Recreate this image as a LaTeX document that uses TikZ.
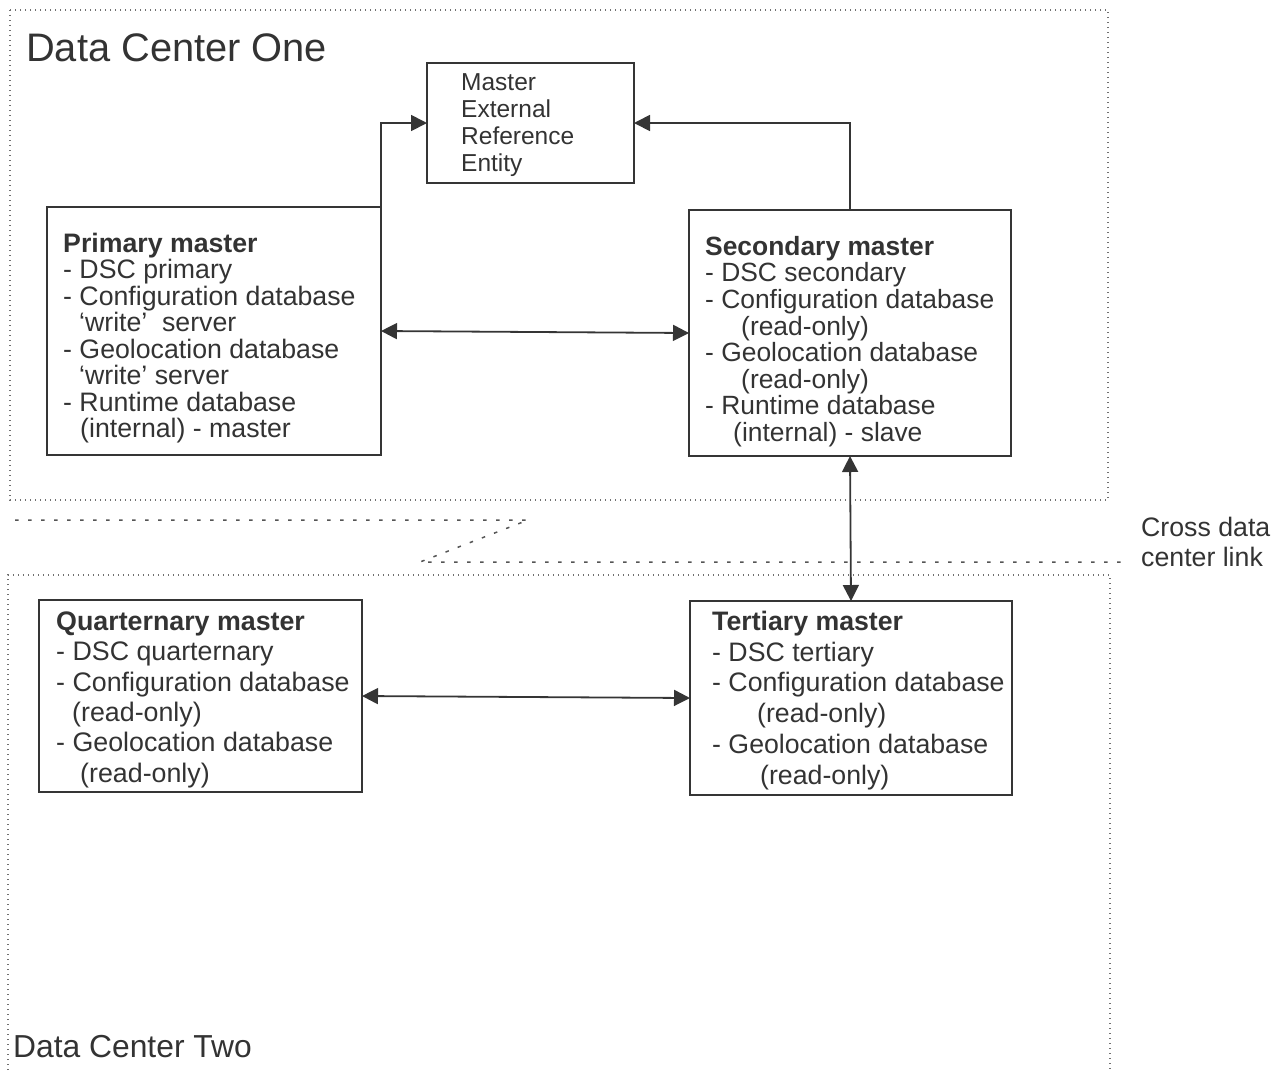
\documentclass[tikz,border=0pt]{standalone}
\usepackage{fontspec}
\setmainfont{Liberation Sans}
\usetikzlibrary{arrows.meta}
\definecolor{ink}{HTML}{333333}
\definecolor{frame}{HTML}{353535}
\definecolor{dots}{HTML}{707070}
\definecolor{sepc}{HTML}{555555}
\begin{document}
\begin{tikzpicture}[x=1pt,y=-1pt,
  box/.style={draw=frame, line width=2pt, inner sep=0pt, outer sep=0pt, anchor=north west},
  txt/.style={anchor=north west, inner sep=0pt, align=left, text=ink},
  tip/.tip={Triangle[length=16pt 0,width=16pt 0]},
  link/.style={draw=frame, line width=1.8pt, tip-tip},
  onelink/.style={draw=frame, line width=1.8pt, -tip},
  dcframe/.style={draw=dots, line width=1.3pt, dash pattern=on 1.4pt off 3.6pt},
  sepline/.style={draw=sepc, line width=1.5pt, dash pattern=on 3.5pt off 9.5pt}
]
\useasboundingbox (0,0) rectangle (1284,1072);

% data center frames
\draw[dcframe] (10,10) rectangle (1108,500);
\draw[dcframe] (8,1080) -- (8,575) -- (1110,575) -- (1110,1080);
\draw[sepline] (15,520) -- (528,520) -- (420,562) -- (1125,562);

\node[txt, anchor=base west, font=\fontsize{39.8pt}{40pt}\selectfont] (dcone) at (26,61) {Data Center One};
\node[txt, anchor=base west, font=\fontsize{31.8pt}{32pt}\selectfont] (dctwo) at (13,1057) {Data Center Two};
\node[txt, font=\fontsize{26.7pt}{30pt}\selectfont] (xlink) at (1141,516) {\rule{0pt}{20pt}Cross data\\center link};

% boxes
\node[box, minimum width=207pt, minimum height=120pt] (mere) at (427,63) {};
\node[box, minimum width=334pt, minimum height=248pt] (prim) at (47,207) {};
\node[box, minimum width=322pt, minimum height=246pt] (sec) at (689,210) {};
\node[box, minimum width=323pt, minimum height=192pt] (quat) at (39,600) {};
\node[box, minimum width=322pt, minimum height=194pt] (ter) at (690,601) {};

% texts
\node[txt, font=\fontsize{24.5pt}{27pt}\selectfont] (meretxt) at (461,72)
  {\rule{0pt}{18pt}Master\\External\\Reference\\Entity};

\node[txt, font=\fontsize{26.7pt}{26.5pt}\selectfont] (primtxt) at (63,232)
  {\rule{0pt}{20pt}\textbf{Primary master}\\
   - DSC primary\\
   - Configuration database\\
   \hspace*{16pt}‘write’\hspace{0.55em}server\\
   - Geolocation database\\
   \hspace*{16pt}‘write’ server\\
   - Runtime database\\
   \hspace*{17pt}(internal) - master};

\node[txt, font=\fontsize{26.4pt}{26.6pt}\selectfont] (sectxt) at (705,235)
  {\rule{0pt}{20pt}\textbf{Secondary master}\\
   - DSC secondary\\
   - Configuration database\\
   \hspace*{36pt}(read-only)\\
   - Geolocation database\\
   \hspace*{36pt}(read-only)\\
   - Runtime database\\
   \hspace*{28pt}(internal) - slave};

\node[txt, font=\fontsize{26.8pt}{30.4pt}\selectfont] (quattxt) at (56,610)
  {\rule{0pt}{20pt}\textbf{Quarternary master}\\
   - DSC quarternary\\
   - Configuration database\\
   \hspace*{16pt}(read-only)\\
   - Geolocation database\\
   \hspace*{24pt}(read-only)};

\node[txt, font=\fontsize{26.7pt}{30.8pt}\selectfont] (tertxt) at (712,610)
  {\rule{0pt}{20pt}\textbf{Tertiary master}\\
   - DSC tertiary\\
   - Configuration database\\
   \hspace*{45pt}(read-only)\\
   - Geolocation database\\
   \hspace*{48pt}(read-only)};

% connectors
\draw[onelink] (prim.north east) |- (mere.west);
\draw[onelink] (sec.north) |- (mere.east);
\draw[link] (prim.east) -- (sec.west);
\draw[link] (sec.south) -- (ter.north);
\draw[link] (quat.east) -- (ter.west);
\end{tikzpicture}
\end{document}
